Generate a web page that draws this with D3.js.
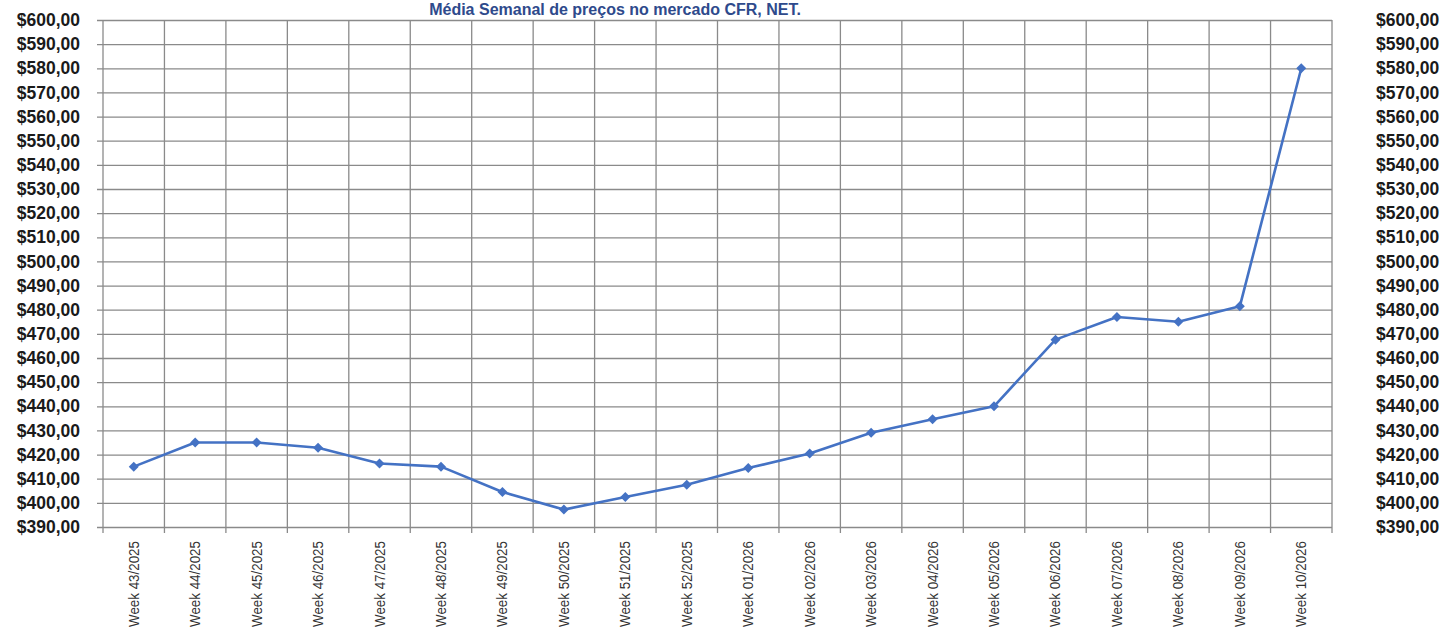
<!DOCTYPE html>
<html>
<head>
<meta charset="utf-8">
<script src="https://cdn.jsdelivr.net/npm/d3@7"></script>
<style>
  body { margin: 0; background: #fff; }
  svg { display: block; font-family: "Liberation Sans", Arial, sans-serif; }
</style>
</head>
<body>
<div id="chart"></div>
<script>
// Média semanal de preços, CFR NET
const weeks = [
  "Week 43/2025", "Week 44/2025", "Week 45/2025", "Week 46/2025", "Week 47/2025",
  "Week 48/2025", "Week 49/2025", "Week 50/2025", "Week 51/2025", "Week 52/2025",
  "Week 01/2026", "Week 02/2026", "Week 03/2026", "Week 04/2026", "Week 05/2026",
  "Week 06/2026", "Week 07/2026", "Week 08/2026", "Week 09/2026", "Week 10/2026"
];
const prices = [
  415.0, 425.0, 425.0, 422.8, 416.3,
  415.0, 404.5, 397.2, 402.4, 407.5,
  414.4, 420.4, 429.0, 434.6, 440.0,
  467.6, 477.0, 475.0, 481.4, 580.0
];
const yTicks = d3.range(390, 601, 10);
const titleText = "Média Semanal de preços no mercado CFR, NET.";

const width = 1443, height = 630;
const margin = { top: 20, right: 111, bottom: 103, left: 103 };

const svg = d3.select("#chart").append("svg")
  .attr("width", width)
  .attr("height", height);

const x = d3.scaleBand()
  .domain(weeks)
  .range([margin.left, width - margin.right]);

const y = d3.scaleLinear()
  .domain([390, 600])
  .range([height - margin.bottom, margin.top]);

const fmt = v => "$" + d3.format(".2f")(v).replace(".", ",");

// horizontal gridlines + left axis
const yAxisLeft = d3.axisLeft(y)
  .tickValues(yTicks)
  .tickFormat(fmt)
  .tickSize(-(width - margin.left - margin.right) - 6)
  .tickSizeOuter(0)
  .tickPadding(16);

const gLeft = svg.append("g")
  .attr("transform", `translate(${margin.left - 6},0)`)
  .call(yAxisLeft);
gLeft.select(".domain").remove();
gLeft.selectAll(".tick line")
  .attr("transform", "translate(6,0)")
  .attr("x2", -6)
  .attr("x1", width - margin.left - margin.right)
  .attr("stroke", "#8a8a8a")
  .attr("stroke-width", 1.3);
gLeft.selectAll(".tick text")
  .attr("x", -(16 - 6) - 7)
  .style("font-size", "17.5px")
  .style("font-weight", "bold")
  .style("fill", "#1a1a1a");

// right-side labels
const yAxisRight = d3.axisRight(y)
  .tickValues(yTicks)
  .tickFormat(fmt)
  .tickSize(0)
  .tickPadding(44);
const gRight = svg.append("g")
  .attr("transform", `translate(${width - margin.right},0)`)
  .call(yAxisRight);
gRight.select(".domain").remove();
gRight.selectAll(".tick text")
  .style("font-size", "17.5px")
  .style("font-weight", "bold")
  .style("fill", "#1a1a1a");

// vertical gridlines at category boundaries
const bounds = weeks.map(w => x(w)).concat([x(weeks[weeks.length - 1]) + x.bandwidth()]);
svg.append("g").selectAll("line")
  .data(bounds)
  .join("line")
  .attr("x1", d => d)
  .attr("x2", d => d)
  .attr("y1", margin.top)
  .attr("y2", height - margin.bottom + 6)
  .attr("stroke", "#8a8a8a")
  .attr("stroke-width", 1.3);

// category labels, rotated
svg.append("g").selectAll("text")
  .data(weeks)
  .join("text")
  .attr("transform", d => `translate(${x(d) + x.bandwidth() / 2 + 5},${height - margin.bottom + 14}) rotate(-90)`)
  .attr("text-anchor", "end")
  .attr("textLength", 86)
  .attr("lengthAdjust", "spacingAndGlyphs")
  .style("font-size", "14.5px")
  .style("fill", "#333")
  .text(d => d);

// series line
const cx = d => x(d) + x.bandwidth() / 2;
const line = d3.line()
  .x((d, i) => cx(weeks[i]))
  .y(d => y(d));

svg.append("path")
  .datum(prices)
  .attr("fill", "none")
  .attr("stroke", "#4472C4")
  .attr("stroke-width", 2.6)
  .attr("stroke-linejoin", "round")
  .attr("d", line);

// diamond markers
svg.append("g").selectAll("path")
  .data(prices)
  .join("path")
  .attr("d", d3.symbol(d3.symbolSquare, 50))
  .attr("transform", (d, i) => `translate(${cx(weeks[i])},${y(d)}) rotate(45)`)
  .attr("fill", "#4472C4");

// title, kept inside the top strip above the plot
svg.append("text")
  .attr("x", 615)
  .attr("y", 15)
  .attr("text-anchor", "middle")
  .style("font-size", "16px")
  .style("font-weight", "bold")
  .style("fill", "#2e4a8c")
  .text(titleText);
</script>
</body>
</html>
